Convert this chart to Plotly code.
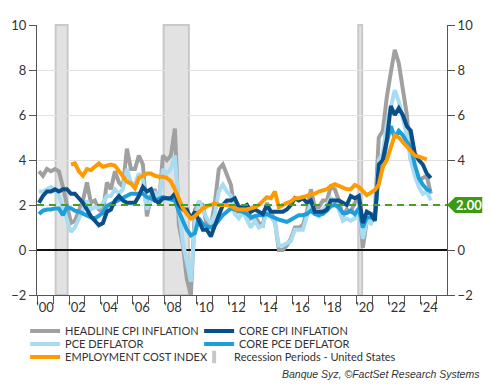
import plotly.graph_objects as go

# ---------------- data (YoY %, sampled at mid-quarter months) ----------------
years = list(range(2000, 2025))
months = [2, 5, 8, 11]
dates = [f"{y}-{m:02d}-15" for y in years for m in months][:99]   # Feb 2000 .. Aug 2024

headline_cpi = [
    3.5, 3.3, 3.6, 3.5,   3.6, 3.5, 2.8, 1.9,   1.2, 1.3, 1.8, 2.2,   3.0, 2.1, 2.2, 1.8,
    1.7, 3.0, 2.7, 3.5,   3.0, 2.8, 4.5, 3.6,   3.6, 4.2, 3.8, 1.5,   2.4, 2.7, 2.0, 4.2,
    4.0, 4.2, 5.4, 1.1,   0.2, -1.3, -2.0, 1.8, 2.1, 2.0, 1.1, 1.1,   2.1, 3.6, 3.8, 3.4,
    2.9, 1.7, 1.7, 1.8,   2.0, 1.4, 1.5, 1.2,   1.1, 2.1, 1.7, 1.3,   0.0, 0.0, 0.2, 0.5,
    1.0, 1.0, 1.1, 1.7,   2.7, 1.9, 1.9, 2.2,   2.2, 2.8, 2.7, 2.2,   1.5, 1.8, 1.7, 2.1,
    2.3, 0.1, 1.3, 1.2,   1.7, 5.0, 5.3, 6.8,   7.9, 8.9, 8.3, 7.1,   6.0, 4.0, 3.7, 3.1,
    3.2, 3.3, 2.5,
]
core_cpi = [
    2.1, 2.4, 2.6, 2.6,   2.7, 2.6, 2.7, 2.7,   2.5, 2.5, 2.3, 2.1,   1.8, 1.5, 1.3, 1.1,
    1.2, 1.7, 1.8, 2.2,   2.4, 2.2, 2.1, 2.1,   2.1, 2.4, 2.8, 2.6,   2.7, 2.2, 2.1, 2.3,
    2.3, 2.3, 2.5, 2.0,   1.8, 1.8, 1.4, 1.7,   1.3, 0.9, 0.9, 0.6,   1.1, 1.5, 2.0, 2.2,
    2.2, 2.3, 1.9, 1.9,   2.0, 1.7, 1.8, 1.7,   1.6, 2.0, 1.7, 1.7,   1.7, 1.7, 1.8, 2.0,
    2.3, 2.2, 2.3, 2.1,   2.2, 1.7, 1.7, 1.7,   1.8, 2.2, 2.2, 2.2,   2.1, 2.0, 2.4, 2.3,
    2.4, 1.2, 1.7, 1.6,   1.3, 3.8, 4.0, 4.9,   6.4, 6.0, 6.3, 6.0,   5.5, 5.3, 4.3, 4.0,
    3.8, 3.4, 3.2,
]
pce_deflator = [
    2.6, 2.6, 2.7, 2.8,   2.6, 2.4, 1.9, 1.3,   0.8, 1.0, 1.4, 1.8,   2.2, 1.8, 1.9, 1.9,
    2.1, 2.4, 2.4, 2.7,   2.5, 2.7, 3.6, 3.0,   2.9, 3.4, 3.1, 1.8,   2.2, 2.6, 2.1, 3.6,
    3.4, 3.6, 4.2, 1.8,   0.3, -0.5, -1.4, 1.2, 2.2, 1.8, 1.4, 1.2,   1.6, 2.6, 2.9, 2.6,
    2.4, 1.6, 1.4, 1.7,   1.3, 1.0, 1.3, 1.0,   1.1, 1.7, 1.5, 1.2,   0.2, 0.2, 0.3, 0.4,
    0.9, 0.9, 0.9, 1.5,   2.1, 1.6, 1.5, 1.8,   2.0, 2.3, 2.2, 1.8,   1.3, 1.4, 1.3, 1.4,
    1.8, 0.5, 1.3, 1.2,   1.6, 4.0, 4.3, 5.6,   6.4, 7.1, 6.6, 5.9,   5.1, 4.0, 3.3, 2.8,
    2.5, 2.6, 2.2,
]
core_pce = [
    1.6, 1.75, 1.8, 1.8,  1.85, 1.85, 1.55, 1.9, 1.85, 1.75, 1.7, 1.6, 1.55, 1.45, 1.4, 1.5,
    1.65, 1.95, 2.05, 2.15, 2.25, 2.35, 2.4, 2.5, 2.5, 2.5, 2.5, 2.35, 2.3, 2.2, 2.3, 2.35,
    2.3, 2.25, 2.2, 1.7,  1.3, 0.9, 0.65, 0.75, 1.4, 1.15, 1.05, 1.0, 1.1, 1.35, 1.55, 1.7,
    1.85, 1.8, 1.75, 1.7, 1.6, 1.45, 1.5, 1.55, 1.55, 1.6, 1.5, 1.4, 1.35, 1.3, 1.25, 1.35,
    1.45, 1.55, 1.55, 1.6, 1.75, 1.6, 1.55, 1.6, 1.75, 1.95, 2.0, 1.9, 1.65, 1.65, 1.75, 1.6,
    1.85, 1.0, 1.45, 1.45, 1.5, 3.4, 3.7, 4.8, 5.5, 5.0, 5.3, 5.1, 4.8, 4.6, 3.8, 3.2,
    2.9, 2.7, 2.6,
]
# Employment cost index starts in Feb 2002 and ends May 2024
eci_dates = dates[8:98]
employment_cost_index = [
    3.8, 3.85, 3.5, 3.3,  3.6, 3.55, 3.7, 3.85,  3.7, 3.75, 3.8, 3.75,  3.5, 3.3, 3.04, 2.96,
    2.75, 3.2, 3.3, 3.4,  3.4, 3.3, 3.26, 3.26,  3.2, 3.05, 2.7, 2.3,   1.85, 1.6, 1.4, 1.5,
    1.7, 1.85, 1.95, 2.0, 2.07, 2.0, 2.0, 2.0,   1.95, 1.85, 1.8, 1.78, 1.8, 1.85, 1.9, 2.0,
    2.2, 2.35, 2.3, 2.6,  1.9, 2.0, 2.1, 2.15,   2.3, 2.3, 2.35, 2.4,  2.5, 2.5, 2.6, 2.67,
    2.7, 2.85, 2.93, 2.85, 2.75, 2.7, 2.7, 2.89, 2.8, 2.6, 2.44, 2.55, 2.67, 2.9, 3.7, 4.0,
    4.5, 5.1, 5.0, 4.8,  4.6, 4.4, 4.2, 4.15,   4.1, 4.03,
]
recession_start = ["2001-03-01", "2007-12-01", "2020-02-01"]
recession_end = ["2001-11-30", "2009-06-30", "2020-04-30"]
target_rate = 2.0
y_ticks = [-2, 0, 2, 4, 6, 8, 10]
x_tick_years = list(range(2000, 2025, 2))
x_tick_labels = [f"'{y % 100:02d}" for y in x_tick_years]

# ---------------- styling ----------------
GRAY = "#a0a0a0"
DARK_BLUE = "#0a4f8a"
LIGHT_BLUE = "#a8dcf2"
MID_BLUE = "#1e9fdc"
ORANGE = "#ff9a00"
GREEN = "#46a024"
FONT = "Lato"

fig = go.Figure()

def add_line(x, y, name, color, legend_id):
    fig.add_trace(go.Scatter(
        x=x, y=y, name=name, mode="lines",
        line=dict(color=color, width=4, shape="linear"),
        legend=legend_id, hoverinfo="skip",
    ))

add_line(dates, headline_cpi, "HEADLINE CPI INFLATION", GRAY, "legend")
add_line(dates, pce_deflator, "PCE DEFLATOR", LIGHT_BLUE, "legend2")
add_line(dates, core_pce, "CORE PCE DEFLATOR", MID_BLUE, "legend2")
add_line(dates, core_cpi, "CORE CPI INFLATION", DARK_BLUE, "legend")
add_line(eci_dates, employment_cost_index, "EMPLOYMENT COST INDEX", ORANGE, "legend3")

# legend entry for recession periods (placed on right axis so it is drawn)
fig.add_trace(go.Scatter(
    x=[None], y=[None], yaxis="y2", mode="markers",
    name="Recession Periods - United States",
    marker=dict(symbol="line-ns", size=9, color="#c8c8c8",
                line=dict(color="#c8c8c8", width=4)),
    legend="legend4", hoverinfo="skip",
))

# recession bands
for s, e in zip(recession_start, recession_end):
    fig.add_shape(type="rect", xref="x", yref="paper", x0=s, x1=e, y0=0, y1=1,
                  fillcolor="#e2e2e2", line=dict(color="#c9c9c9", width=2),
                  layer="below")

# 2% target dashed line
fig.add_shape(type="line", xref="paper", yref="y", x0=0, x1=1,
              y0=target_rate, y1=target_rate,
              line=dict(color=GREEN, width=2, dash="7px,5px"))

# value tag at right axis
fig.add_shape(type="path", xref="paper", yref="y",
              path=f"M 1.0,{target_rate} L 1.02,{target_rate + 0.36} L 1.086,{target_rate + 0.36} "
                   f"L 1.086,{target_rate - 0.36} L 1.02,{target_rate - 0.36} Z",
              fillcolor="#3e9a14", line=dict(width=0), layer="above")
fig.add_annotation(xref="paper", yref="y", x=1.053, y=target_rate,
                   text=f"<b>{target_rate:.2f}</b>", showarrow=False,
                   font=dict(family=FONT, size=13, color="white"),
                   xanchor="center", yanchor="middle")

# credit
fig.add_annotation(xref="paper", yref="paper", x=1.086, y=-0.293,
                   text="<i>Banque Syz, ©FactSet Research Systems</i>",
                   showarrow=False, xanchor="right", yanchor="middle",
                   font=dict(family="Liberation Sans", size=10.5, color="#333333"))

axis_font = dict(family=FONT, size=13, color="#333333")

def legend_row(yc, x=-0.029, entrywidth=129):
    return dict(orientation="h", x=x, y=yc, xanchor="left", yanchor="middle",
                entrywidth=entrywidth, entrywidthmode="pixels", itemwidth=30,
                font=dict(family=FONT, size=11, color="#333333"),
                bgcolor="rgba(0,0,0,0)", borderwidth=0, traceorder="normal")

# the page body adds an 8px offset, so the figure is 8px smaller than the window
fig.update_layout(
    width=484, height=384,
    margin=dict(l=29, r=45, t=17, b=97, autoexpand=False),
    paper_bgcolor="white", plot_bgcolor="white",
    showlegend=True,
    legend=legend_row(-0.1333),
    legend2=legend_row(-0.1815),
    legend3=legend_row(-0.2296, entrywidth=160),
    legend4=legend_row(-0.2296, x=-0.029 + 169 / 410, entrywidth=200),
    xaxis=dict(
        type="date", range=["2000-01-01", "2025-08-20"], automargin=False,
        tickvals=[f"{y}-07-02" for y in x_tick_years], ticktext=x_tick_labels,
        ticks="", showgrid=False, zeroline=False,
        showline=True, linecolor="#555555", linewidth=1,
        tickfont=axis_font,
        minor=dict(ticks="outside", ticklen=8, tickcolor="#555555", tickwidth=1,
                   tick0="2000-01-01", dtick="M12", showgrid=False),
    ),
    yaxis=dict(
        range=[-2, 10], tickvals=y_ticks, ticks="outside", ticklen=7, automargin=False,
        tickcolor="#555555", showline=True, linecolor="#555555", linewidth=1,
        showgrid=True, gridcolor="#e2e2e2", gridwidth=1,
        zeroline=True, zerolinecolor="#111111", zerolinewidth=1.5,
        tickfont=axis_font,
    ),
    yaxis2=dict(
        range=[-2, 10], tickvals=[v for v in y_ticks if v != target_rate],
        overlaying="y", side="right", ticks="outside", ticklen=7, automargin=False,
        tickcolor="#555555", showline=True, linecolor="#555555", linewidth=1,
        showgrid=False, zeroline=False, tickfont=axis_font,
    ),
)

fig.write_html("out.html")
